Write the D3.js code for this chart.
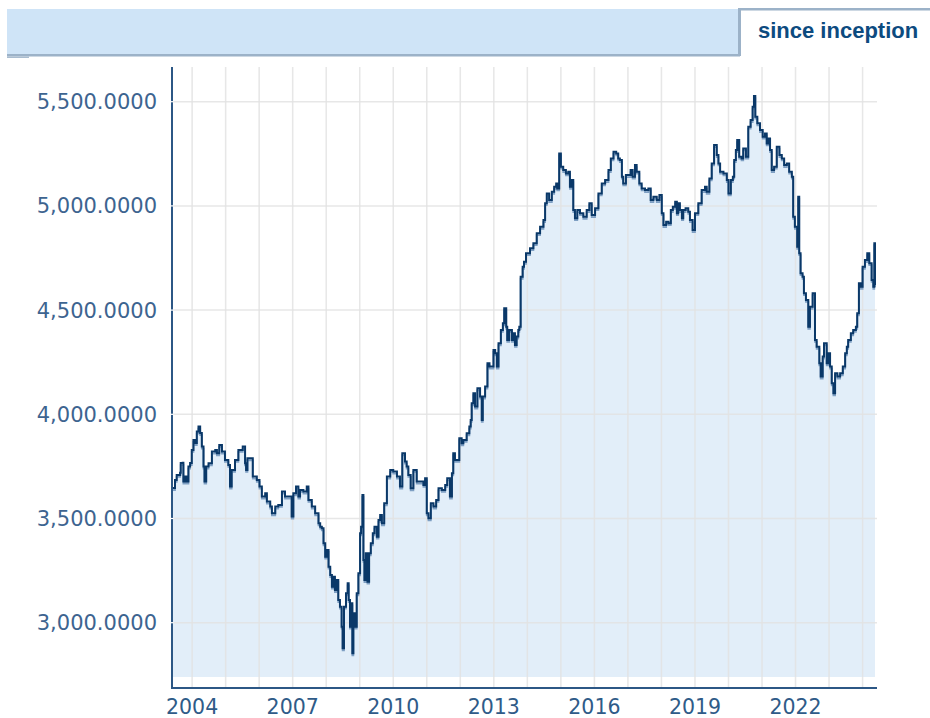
<!DOCTYPE html>
<html><head><meta charset="utf-8">
<script src="https://cdn.jsdelivr.net/npm/d3@7"></script>
<style>html,body{margin:0;padding:0;background:#fff;}svg{display:block;}</style>
</head><body>
<script>
// ---- data (decimal year, value) ----
const years = [2003.40,2003.49,2003.54,2003.64,2003.66,2003.72,2003.74,2003.79,2003.84,2003.89,2003.94,2003.99,2004.04,2004.09,2004.14,2004.19,2004.24,2004.29,2004.34,2004.37,2004.42,2004.49,2004.59,2004.69,2004.74,2004.81,2004.89,2004.98,2005.08,2005.13,2005.18,2005.28,2005.38,2005.51,2005.58,2005.61,2005.65,2005.75,2005.81,2005.93,2006.01,2006.08,2006.18,2006.23,2006.33,2006.38,2006.48,2006.57,2006.68,2006.77,2006.87,2006.97,2007.02,2007.10,2007.17,2007.22,2007.32,2007.42,2007.47,2007.57,2007.67,2007.77,2007.82,2007.87,2007.92,2007.97,2008.02,2008.07,2008.12,2008.17,2008.21,2008.26,2008.32,2008.36,2008.41,2008.46,2008.49,2008.53,2008.59,2008.64,2008.67,2008.71,2008.74,2008.78,2008.81,2008.86,2008.91,2008.96,2009.01,2009.04,2009.08,2009.11,2009.14,2009.18,2009.23,2009.28,2009.33,2009.39,2009.44,2009.51,2009.56,2009.61,2009.66,2009.73,2009.81,2009.91,2010.00,2010.11,2010.20,2010.27,2010.35,2010.40,2010.45,2010.52,2010.60,2010.70,2010.80,2010.90,2010.95,2011.00,2011.05,2011.12,2011.20,2011.28,2011.35,2011.45,2011.55,2011.61,2011.69,2011.75,2011.79,2011.84,2011.91,2011.97,2012.04,2012.09,2012.19,2012.27,2012.31,2012.34,2012.39,2012.44,2012.51,2012.59,2012.64,2012.67,2012.74,2012.81,2012.87,2012.94,2012.99,2013.04,2013.09,2013.14,2013.21,2013.27,2013.31,2013.37,2013.40,2013.46,2013.54,2013.58,2013.63,2013.68,2013.73,2013.76,2013.80,2013.86,2013.90,2013.96,2014.08,2014.18,2014.28,2014.38,2014.48,2014.53,2014.58,2014.65,2014.73,2014.80,2014.86,2014.89,2014.95,2015.00,2015.07,2015.15,2015.22,2015.27,2015.32,2015.37,2015.42,2015.49,2015.57,2015.67,2015.77,2015.85,2015.92,2016.02,2016.12,2016.22,2016.32,2016.42,2016.49,2016.57,2016.65,2016.71,2016.76,2016.82,2016.86,2016.94,2017.01,2017.08,2017.14,2017.21,2017.26,2017.34,2017.41,2017.51,2017.61,2017.68,2017.76,2017.86,2017.94,2018.01,2018.06,2018.14,2018.21,2018.28,2018.34,2018.41,2018.46,2018.50,2018.55,2018.61,2018.65,2018.72,2018.80,2018.85,2018.93,2019.00,2019.10,2019.20,2019.30,2019.35,2019.43,2019.50,2019.57,2019.65,2019.70,2019.75,2019.85,2019.95,2020.00,2020.07,2020.13,2020.17,2020.22,2020.26,2020.32,2020.39,2020.44,2020.52,2020.59,2020.66,2020.72,2020.76,2020.80,2020.86,2020.94,2021.02,2021.09,2021.14,2021.19,2021.24,2021.29,2021.36,2021.44,2021.52,2021.59,2021.66,2021.74,2021.81,2021.89,2021.93,2021.98,2022.05,2022.08,2022.11,2022.15,2022.21,2022.25,2022.31,2022.38,2022.43,2022.51,2022.58,2022.63,2022.71,2022.75,2022.81,2022.85,2022.93,2022.98,2023.03,2023.08,2023.13,2023.18,2023.25,2023.33,2023.41,2023.48,2023.53,2023.57,2023.65,2023.72,2023.80,2023.84,2023.89,2023.94,2024.00,2024.07,2024.14,2024.20,2024.27,2024.32,2024.35,2024.37];
const values = [3646,3685,3709,3719,3766,3768,3677,3701,3677,3749,3766,3829,3877,3862,3917,3941,3910,3845,3749,3677,3749,3765,3821,3829,3813,3853,3821,3781,3757,3653,3733,3781,3829,3845,3765,3733,3789,3789,3701,3685,3653,3605,3621,3581,3557,3525,3557,3565,3629,3605,3605,3509,3621,3653,3605,3637,3629,3653,3589,3557,3525,3477,3461,3453,3381,3317,3349,3269,3229,3173,3221,3157,3205,3109,3077,2981,2877,3077,3141,3189,3109,2981,3093,2853,3045,2981,3141,3237,3429,3461,3613,3301,3205,3333,3197,3333,3381,3429,3461,3413,3493,3517,3477,3573,3701,3733,3725,3701,3653,3813,3773,3749,3709,3645,3733,3677,3677,3661,3693,3525,3501,3573,3557,3589,3645,3637,3661,3693,3605,3717,3813,3781,3781,3885,3861,3877,3909,3941,3973,4053,4101,4037,4125,4085,3973,4085,4133,4245,4229,4229,4309,4293,4229,4341,4405,4437,4509,4420,4357,4405,4357,4389,4333,4373,4405,4420,4660,4708,4732,4773,4797,4821,4869,4900,4932,5013,5060,5028,5068,5092,5108,5084,5252,5188,5172,5156,5164,5092,5124,4980,4941,4980,4965,4948,4980,5013,4956,4989,5060,5108,5124,5172,5228,5260,5252,5228,5220,5140,5108,5148,5148,5172,5140,5196,5164,5108,5084,5076,5084,5028,5044,5028,5052,4965,4908,4924,4917,4980,4996,5020,4965,5013,4980,4941,4980,4989,4972,4932,4884,4965,5013,5076,5092,5068,5132,5204,5292,5244,5204,5164,5156,5124,5060,5124,5140,5220,5268,5316,5236,5228,5276,5236,5380,5412,5476,5527,5428,5396,5364,5332,5348,5300,5324,5268,5172,5188,5284,5244,5228,5196,5204,5164,5140,4948,4900,4804,5044,4773,4677,4660,4581,4549,4420,4516,4581,4357,4324,4245,4181,4277,4341,4245,4293,4229,4149,4101,4197,4181,4197,4229,4293,4324,4357,4389,4405,4420,4485,4629,4612,4708,4740,4773,4725,4645,4612,4821,4620];
const yTicks = [3000, 3500, 4000, 4500, 5000, 5500];
const xTickYears = [2004, 2007, 2010, 2013, 2016, 2019, 2022];
const gridYears = d3.range(2004, 2025);
const tabLabel = "since inception";

// ---- layout ----
const W = 930, H = 718;
const plot = {left: 172, right: 877, top: 67, axisY: 688, fillBottom: 677};
const svg = d3.select("body").append("svg").attr("width", W).attr("height", H);

const x = d3.scaleLinear().domain([2003.40, 2024.43]).range([plot.left, plot.right]);
const y = d3.scaleLinear().domain([3000, 5500]).range([622.7, 101.7]);

// header
svg.append("rect").attr("x", 7).attr("y", 9).attr("width", 732).attr("height", 46).attr("fill", "#cfe4f7");
svg.append("rect").attr("x", 7).attr("y", 54).attr("width", 733).attr("height", 2.5).attr("fill", "#9cb2c8");
svg.append("rect").attr("x", 7).attr("y", 56.5).attr("width", 22).attr("height", 1.5).attr("fill", "#a9bccf");
svg.append("rect").attr("x", 738).attr("y", 8).attr("width", 192).attr("height", 2.5).attr("fill", "#9cb2c8");
svg.append("rect").attr("x", 738).attr("y", 8).attr("width", 3).attr("height", 48).attr("fill", "#9cb2c8");
svg.append("text").attr("x", 758).attr("y", 38).text(tabLabel)
  .attr("font-family", "'Liberation Sans', Arial, sans-serif").attr("font-weight", "bold")
  .attr("font-size", 22).attr("fill", "#0d4b7f");

const data = years.map((t, i) => ({t, v: values[i]}));

// fill
const area = d3.area().x(d => x(d.t)).y0(plot.fillBottom).y1(d => y(d.v)).curve(d3.curveStepAfter);
svg.append("path").datum(data).attr("d", area).attr("fill", "#e2eef9");

// grid
const grid = svg.append("g");
grid.selectAll("line.v").data(gridYears).join("line")
  .attr("x1", d => x(d)).attr("x2", d => x(d)).attr("y1", plot.top).attr("y2", plot.axisY)
  .attr("stroke", "#e3e3e3").attr("stroke-width", 1.5).attr("opacity", 0.85);
grid.selectAll("line.h").data(yTicks).join("line")
  .attr("x1", plot.left).attr("x2", plot.right).attr("y1", d => y(d)).attr("y2", d => y(d))
  .attr("stroke", "#e3e3e3").attr("stroke-width", 1.5).attr("opacity", 0.85);

// line (shadow + main)
const line = d3.line().x(d => x(d.t)).y(d => y(d.v)).curve(d3.curveStepAfter);
svg.append("path").datum(data).attr("d", line).attr("fill", "none")
  .attr("stroke", "#7e9fc3").attr("stroke-width", 1.8).attr("transform", "translate(0,2)");
svg.append("path").datum(data).attr("d", line).attr("fill", "none")
  .attr("stroke", "#0a3868").attr("stroke-width", 2).attr("stroke-linejoin", "miter");

// axes lines
svg.append("line").attr("x1", plot.left).attr("x2", plot.left).attr("y1", plot.top).attr("y2", plot.axisY + 1)
  .attr("stroke", "#2c5785").attr("stroke-width", 2);
svg.append("line").attr("x1", plot.left - 1).attr("x2", plot.right).attr("y1", plot.axisY).attr("y2", plot.axisY)
  .attr("stroke", "#2c5785").attr("stroke-width", 2);
svg.selectAll("line.gap").data(yTicks).join("line")
  .attr("x1", plot.left - 1.5).attr("x2", plot.left + 1.5).attr("y1", d => y(d)).attr("y2", d => y(d))
  .attr("stroke", "#ffffff").attr("stroke-width", 1.2);

// y labels
const fmt = d3.format(",.4f");
svg.selectAll("text.yl").data(yTicks).join("text")
  .attr("x", 157).attr("y", d => y(d)).attr("dy", "0.36em").attr("text-anchor", "end")
  .attr("font-family", "'DejaVu Sans', Verdana, sans-serif").attr("font-size", 21)
  .attr("fill", "#3d6490").text(d => fmt(d));

// x labels
svg.selectAll("text.xl").data(xTickYears).join("text")
  .attr("x", d => x(d)).attr("y", 714).attr("text-anchor", "middle")
  .attr("font-family", "'DejaVu Sans', Verdana, sans-serif").attr("font-size", 20.5)
  .attr("fill", "#2f5b88").text(d => d);
</script>
</body></html>
